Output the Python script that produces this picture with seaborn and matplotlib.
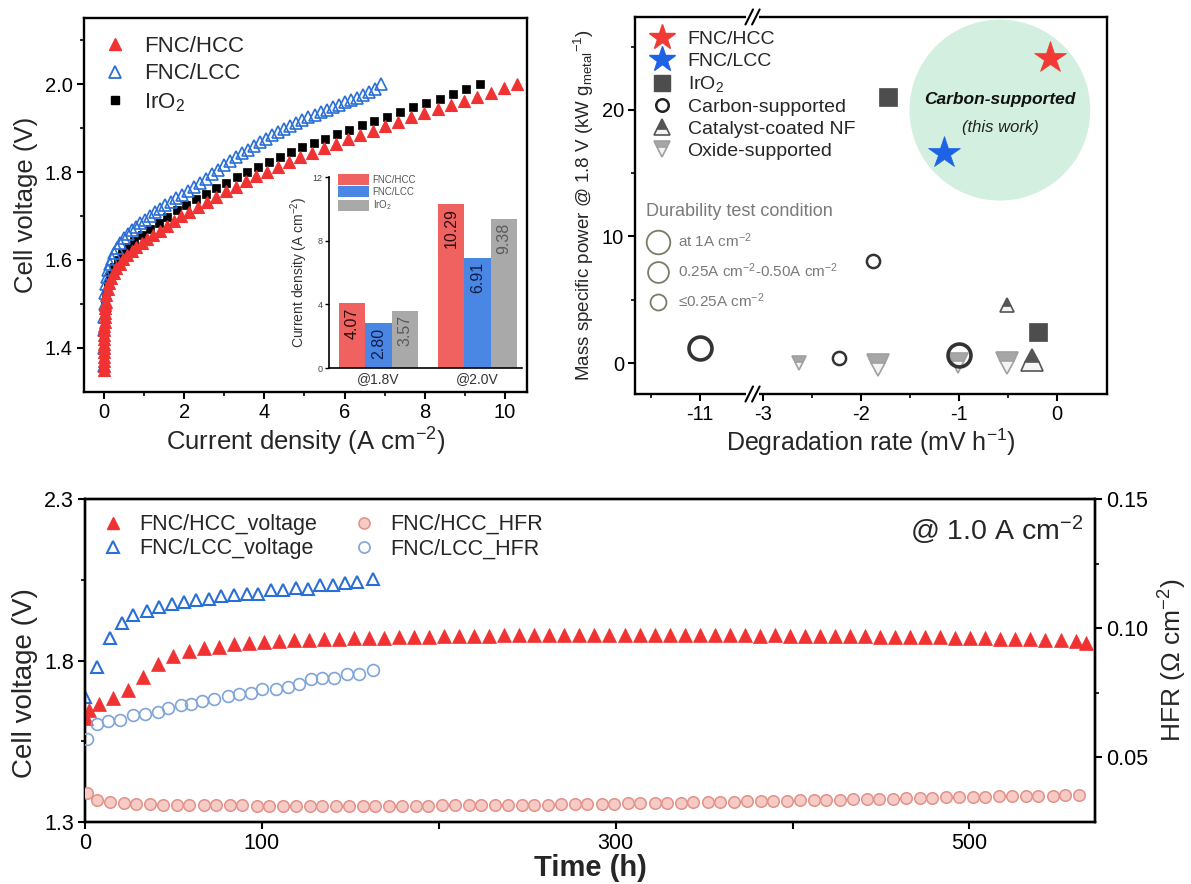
import numpy as np
import pandas as pd
import matplotlib
matplotlib.use("Agg")
import matplotlib.pyplot as plt
import seaborn as sns
from matplotlib.lines import Line2D
from matplotlib.patches import Patch, Ellipse, Rectangle
from matplotlib.ticker import FixedLocator, MultipleLocator

# ---------------- data: (a) polarization curves ----------------
hcc_j = [0.0, 0.0, 0.0, 0.001, 0.002, 0.003, 0.004, 0.005, 0.006, 0.008, 0.01, 0.013, 0.016,
         0.02, 0.025, 0.03, 0.04, 0.06, 0.09, 0.13, 0.18, 0.24,
         0.31, 0.39, 0.48, 0.58, 0.69, 0.81, 0.94, 1.08, 1.23, 1.39, 1.56, 1.74, 1.93, 2.13, 2.34,
         2.56, 2.79, 3.03, 3.28, 3.54, 3.80, 4.07, 4.34, 4.62, 4.90, 5.19, 5.48, 5.78, 6.08, 6.39,
         6.70, 7.02, 7.34, 7.66, 7.99, 8.32, 8.65, 8.98, 9.31, 9.64, 9.97, 10.29]
hcc_v = [1.35, 1.36, 1.37, 1.38, 1.39, 1.40, 1.41, 1.42, 1.43, 1.44, 1.45, 1.46, 1.47,
         1.48, 1.49, 1.497, 1.505, 1.52, 1.535, 1.548, 1.56, 1.571,
         1.582, 1.592, 1.602, 1.612, 1.621, 1.63, 1.639, 1.648, 1.657, 1.667, 1.677, 1.688, 1.699,
         1.710, 1.721, 1.732, 1.744, 1.756, 1.767, 1.779, 1.790, 1.800, 1.811, 1.822, 1.833, 1.844,
         1.854, 1.864, 1.874, 1.884, 1.894, 1.904, 1.914, 1.924, 1.934, 1.944, 1.953, 1.962, 1.971,
         1.980, 1.990, 2.0]
lcc_j = [0.0, 0.002, 0.005, 0.01, 0.02, 0.035, 0.055, 0.08, 0.11, 0.15, 0.2, 0.26, 0.33, 0.41,
         0.5, 0.6, 0.7, 0.8, 0.91, 1.02, 1.14, 1.26, 1.39, 1.52, 1.66, 1.80, 1.95, 2.10, 2.25, 2.40,
         2.55, 2.70, 2.85, 3.00, 3.15, 3.30, 3.45, 3.60, 3.75, 3.90, 4.05, 4.20, 4.35, 4.50, 4.65,
         4.80, 4.95, 5.10, 5.25, 5.40, 5.55, 5.70, 5.85, 6.00, 6.15, 6.30, 6.45, 6.60, 6.75, 6.91]
lcc_v = [1.36, 1.40, 1.44, 1.47, 1.50, 1.525, 1.545, 1.562, 1.577, 1.59, 1.603, 1.615, 1.627, 1.638,
         1.649, 1.659, 1.668, 1.676, 1.684, 1.692, 1.700, 1.708, 1.716, 1.724, 1.732, 1.740, 1.748,
         1.757, 1.766, 1.775, 1.785, 1.795, 1.805, 1.815, 1.824, 1.834, 1.843, 1.851, 1.860, 1.868,
         1.876, 1.884, 1.891, 1.898, 1.905, 1.912, 1.918, 1.924, 1.930, 1.936, 1.942, 1.947, 1.952,
         1.958, 1.963, 1.969, 1.975, 1.981, 1.988, 2.0]
iro2_j = [0.0, 0.005, 0.015, 0.03, 0.06, 0.1, 0.16, 0.24, 0.34, 0.46, 0.6, 0.76, 0.94, 1.14, 1.36,
          1.58, 1.81, 2.05, 2.29, 2.54, 2.79, 3.05, 3.31, 3.57, 3.84, 4.11, 4.38, 4.66, 4.94, 5.23,
          5.52, 5.82, 6.12, 6.43, 6.74, 7.06, 7.38, 7.71, 8.04, 8.37, 8.70, 9.04, 9.38]
iro2_v = [1.36, 1.43, 1.47, 1.50, 1.525, 1.545, 1.565, 1.583, 1.60, 1.615, 1.63, 1.644, 1.657, 1.670,
          1.684, 1.698, 1.713, 1.726, 1.738, 1.751, 1.763, 1.776, 1.788, 1.800, 1.812, 1.823, 1.834,
          1.845, 1.856, 1.866, 1.876, 1.886, 1.896, 1.906, 1.916, 1.926, 1.936, 1.947, 1.957, 1.967,
          1.977, 1.988, 2.0]

# inset bars
inset_cond = ["@1.8V", "@2.0V"]
inset_samples = ["FNC/HCC", "FNC/LCC", "IrO$_2$"]
inset_hcc = [4.07, 10.29]
inset_lcc = [2.80, 6.91]
inset_iro2 = [3.57, 9.38]

# ---------------- data: (b) degradation vs mass specific power ----------------
b_hcc_x, b_hcc_y = [-0.07], [24.1]
b_lcc_x, b_lcc_y = [-1.15], [16.6]
b_iro2_x, b_iro2_y = [-1.73, -0.19], [21.0, 2.45]
b_carbon_x = [-11.0, -2.23, -1.88, -1.0]
b_carbon_y = [1.2, 0.4, 8.1, 0.6]
b_carbon_cond = ["high", "low", "low", "high"]
b_nf_x = [-0.51, -0.26]
b_nf_y = [4.6, 0.25]
b_nf_cond = ["low", "high"]
b_ox_x = [-2.64, -1.83, -1.01, -0.51]
b_ox_y = [0.0, -0.15, 0.0, 0.0]
b_ox_cond = ["low", "high", "mid", "high"]
b_xticks = [-11, -3, -2, -1, 0]
b_cond_labels = ["at 1A cm$^{-2}$", "0.25A cm$^{-2}$-0.50A cm$^{-2}$", "\u22640.25A cm$^{-2}$"]

# ---------------- data: (c) durability ----------------
c_hcc_t = [0.5, 2, 8, 16, 24.5, 33, 41.5, 50, 58.5, 67,
           75.5, 84, 92.5, 101, 109.5, 118, 126.5, 135, 143.5, 152,
           160.5, 169, 177.5, 186, 194.5, 203, 211.5, 220, 228.5, 237,
           245.5, 254, 262.5, 271, 279.5, 288, 296.5, 305, 313.5, 322,
           330.5, 339, 347.5, 356, 364.5, 373, 381.5, 390, 398.5, 407,
           415.5, 424, 432.5, 441, 449.5, 458, 466.5, 475, 483.5, 492,
           500.5, 509, 517.5, 526, 534.5, 543, 551.5, 560, 566]
c_hcc_v = [1.622, 1.648, 1.665, 1.684, 1.709, 1.749, 1.789, 1.814, 1.830, 1.838,
           1.843, 1.850, 1.854, 1.857, 1.860, 1.862, 1.864, 1.866, 1.868, 1.869,
           1.870, 1.871, 1.872, 1.873, 1.874, 1.875, 1.876, 1.877, 1.877, 1.878,
           1.879, 1.880, 1.879, 1.880, 1.879, 1.879, 1.880, 1.879, 1.878, 1.879,
           1.879, 1.878, 1.879, 1.879, 1.878, 1.878, 1.877, 1.878, 1.877, 1.876,
           1.877, 1.876, 1.875, 1.875, 1.874, 1.874, 1.873, 1.872, 1.872, 1.871,
           1.870, 1.869, 1.868, 1.867, 1.866, 1.864, 1.862, 1.860, 1.855]
c_lcc_t = [0, 6.6, 14, 21, 27, 35, 42, 49, 56, 63, 70, 77, 84, 91.5, 98, 105, 112, 119, 126,
           133, 140, 147, 154, 163]
c_lcc_v = [1.687, 1.780, 1.869, 1.916, 1.940, 1.953, 1.966, 1.975, 1.981, 1.987, 1.990, 2.000,
           2.003, 2.006, 2.006, 2.018, 2.018, 2.024, 2.021, 2.034, 2.034, 2.040, 2.043, 2.052]
c_hcc_hfr_t = [1, 7, 14, 22, 29, 37, 44, 52, 59, 67,
               74, 82, 89, 97, 104, 112, 119, 127, 134, 142,
               149, 157, 164, 172, 179, 187, 194, 202, 209, 217,
               224, 232, 239, 247, 254, 262, 269, 277, 284, 292,
               299, 307, 314, 322, 329, 337, 344, 352, 359, 367,
               374, 382, 389, 397, 404, 412, 419, 427, 434, 442,
               449, 457, 464, 472, 479, 487, 494, 502, 509, 517,
               524, 532, 539, 547, 554, 562]
c_hcc_hfr = [0.0362, 0.0335, 0.0326, 0.0322, 0.0320, 0.0318, 0.0317, 0.0316, 0.0316, 0.0315,
             0.0315, 0.0314, 0.0314, 0.0313, 0.0313, 0.0313, 0.0312, 0.0312, 0.0312, 0.0312,
             0.0312, 0.0312, 0.0312, 0.0313, 0.0313, 0.0313, 0.0313, 0.0314, 0.0314, 0.0314,
             0.0315, 0.0315, 0.0316, 0.0316, 0.0317, 0.0317, 0.0318, 0.0319, 0.0319, 0.0320,
             0.0321, 0.0322, 0.0322, 0.0323, 0.0324, 0.0325, 0.0326, 0.0327, 0.0328, 0.0329,
             0.0330, 0.0331, 0.0332, 0.0333, 0.0334, 0.0335, 0.0336, 0.0337, 0.0338, 0.0339,
             0.0340, 0.0341, 0.0342, 0.0343, 0.0344, 0.0345, 0.0346, 0.0347, 0.0348, 0.0349,
             0.0350, 0.0351, 0.0352, 0.0352, 0.0353, 0.0354]
c_lcc_hfr_t = [1, 7, 13, 20, 27, 34, 41, 47, 54, 60, 66, 73, 81, 87, 94, 100, 108, 115, 121,
               128, 134, 141, 148, 155, 163]
c_lcc_hfr = [0.0573, 0.0631, 0.0642, 0.0646, 0.0665, 0.0669, 0.0677, 0.0692, 0.0704, 0.0708,
             0.0719, 0.0727, 0.0738, 0.0746, 0.0750, 0.0765, 0.0765, 0.0773, 0.0785, 0.0804,
             0.0808, 0.0808, 0.0823, 0.0823, 0.0838]
c_xticklabels = ["0", "100", "", "300", "", "500"]

# ---------------- style ----------------
sns.set_theme(style="ticks")
plt.rcParams["font.family"] = ["Liberation Sans", "DejaVu Sans"]
plt.rcParams["mathtext.fontset"] = "custom"
plt.rcParams["mathtext.rm"] = "Liberation Sans"
plt.rcParams["mathtext.it"] = "Liberation Sans:italic"
plt.rcParams["mathtext.bf"] = "Liberation Sans:bold"
plt.rcParams["axes.edgecolor"] = "black"
plt.rcParams["xtick.color"] = "black"
plt.rcParams["ytick.color"] = "black"

RED = "#f03232"
BLUE = "#2a6fd6"
STAR_RED = "#f23a35"
STAR_BLUE = "#1e62e6"
DARK = "#4d4d4d"


def pts(ax, xs, ys, **kw):
    sns.lineplot(x=xs, y=ys, ax=ax, estimator=None, sort=False, linestyle="",
                 legend=False, **kw)


def style_axis(ax, lsize):
    ax.tick_params(which="major", direction="out", length=5, width=1.5, labelsize=lsize, pad=3)
    ax.tick_params(which="minor", direction="out", length=3, width=1.2)
    for s in ax.spines.values():
        s.set_linewidth(1.7)


fig = plt.figure(figsize=(11.91, 8.84), dpi=100)

# ======================= (a) =======================
axA = fig.add_axes([0.0705, 0.5566, 0.372, 0.423])
pts(axA, iro2_j, iro2_v, marker="s", markersize=5.5, color="black",
    markerfacecolor="black", markeredgecolor="black", markeredgewidth=0.5, zorder=2)
pts(axA, lcc_j, lcc_v, marker="^", markersize=8, color=BLUE,
    markerfacecolor="none", markeredgecolor=BLUE, markeredgewidth=1.2, zorder=3)
pts(axA, hcc_j, hcc_v, marker="^", markersize=8.5, color=RED,
    markerfacecolor=RED, markeredgecolor=RED, markeredgewidth=0.8, zorder=4)
axA.set_xlim(-0.5, 10.55)
axA.set_ylim(1.30, 2.15)
axA.xaxis.set_major_locator(MultipleLocator(2))
axA.xaxis.set_minor_locator(MultipleLocator(1))
axA.yaxis.set_major_locator(FixedLocator([1.4, 1.6, 1.8, 2.0]))
axA.yaxis.set_minor_locator(FixedLocator([1.5, 1.7, 1.9, 2.1]))
axA.set_yticklabels(["1.4", "1.6", "1.8", "2.0"])
style_axis(axA, 14.5)
axA.set_xlabel("Current density (A cm$^{-2}$)", fontsize=18.5, labelpad=3)
axA.set_ylabel("Cell voltage (V)", fontsize=18.5, labelpad=5)
hA = [Line2D([], [], ls="", marker="^", ms=9, mfc=RED, mec=RED),
      Line2D([], [], ls="", marker="^", ms=9, mfc="none", mec=BLUE, mew=1.3),
      Line2D([], [], ls="", marker="s", ms=6, mfc="black", mec="black")]
axA.legend(hA, ["FNC/HCC", "FNC/LCC", "IrO$_2$"], loc="upper left", bbox_to_anchor=(0.0, 1.0),
           frameon=False, fontsize=16, handlelength=1.2, handletextpad=0.7, labelspacing=0.3,
           borderaxespad=0.4)

# ---- inset bars ----
axI = fig.add_axes([0.2762, 0.5837, 0.162, 0.216])
df_in = pd.DataFrame({
    "cond": inset_cond * 3,
    "sample": [s for s in inset_samples for _ in inset_cond],
    "j": inset_hcc + inset_lcc + inset_iro2,
})
bar_cols = {"FNC/HCC": "#f0625f", "FNC/LCC": "#4a86e3", "IrO$_2$": "#a9a9a9"}
sns.barplot(data=df_in, x="cond", y="j", hue="sample", palette=bar_cols, ax=axI, width=0.8,
            saturation=1, legend=False, edgecolor="none", errorbar=None)
label_cols = ["#2a0d0d", "#0d1f4a", "#5a5a5a"]
for cont, col in zip(axI.containers, label_cols):
    txts = axI.bar_label(cont, labels=[f"{b.get_height():.2f}" for b in cont], rotation=90,
                         padding=-3, fontsize=11.5, color=col)
    for t in txts:
        t.set_va("top")
axI.set_ylim(0, 12)
axI.set_xlim(-0.5, 1.45)
axI.yaxis.set_major_locator(FixedLocator([0, 4, 8, 12]))
axI.set_yticklabels(["0", "4", "8", "12"])
axI.set_xlabel("")
axI.set_ylabel("Current density (A cm$^{-2}$)", fontsize=10, labelpad=2, color="#333333")
axI.tick_params(axis="y", labelsize=6.5, length=3, width=1.0, pad=1.5, labelcolor="#444444")
axI.tick_params(axis="x", labelsize=10, length=0, pad=3, labelcolor="#333333")
axI.spines["top"].set_visible(False)
axI.spines["right"].set_visible(False)
axI.spines["left"].set_linewidth(1.2)
axI.spines["bottom"].set_linewidth(1.2)
axI.patch.set_alpha(0)
hI = [Patch(facecolor=bar_cols[s], edgecolor="none") for s in inset_samples]
axI.legend(hI, inset_samples, loc="upper left", bbox_to_anchor=(0.0, 1.06), frameon=False,
           fontsize=7, handlelength=3.2, handleheight=1.3, labelspacing=0.15, handletextpad=0.4,
           labelcolor="#555555")

# ======================= (b) =======================
axB = fig.add_axes([0.5332, 0.5543, 0.3963, 0.4265])
BRK_D = -10.46
SHIFT = 7.35
BRK_P = BRK_D + SHIFT


def fwd(x):
    x = np.asarray(x, dtype=float)
    return np.where(x <= BRK_D, x + SHIFT, np.where(x >= BRK_P, x, BRK_P))


def inv(p):
    p = np.asarray(p, dtype=float)
    return np.where(p < BRK_P, p - SHIFT, p)


axB.set_xscale("function", functions=(fwd, inv))
axB.add_patch(Ellipse((0.773, 0.753), 0.383, 0.48, transform=axB.transAxes,
                      facecolor="#d2efdf", edgecolor="none", zorder=0))
size_map = {"high": 16, "mid": 14, "low": 10}
circle_size = {"high": 16.5, "mid": 13.5, "low": 9.5}

for x, y, c in zip(b_ox_x, b_ox_y, b_ox_cond):
    pts(axB, [x], [y], marker="v", markersize=size_map[c], color="#9a9a9a",
        markerfacecolor="#a6a6a6", markerfacecoloralt="#f4f4f4", fillstyle="top",
        markeredgecolor="#a0a0a0", markeredgewidth=1.2, zorder=3)
for x, y, c in zip(b_carbon_x, b_carbon_y, b_carbon_cond):
    pts(axB, [x], [y], marker="o", markersize=circle_size[c], color="#2a2a2a",
        markerfacecolor="none", markeredgecolor="#333333",
        markeredgewidth=2.6 if c == "high" else 1.8, zorder=4)
for x, y, c in zip(b_nf_x, b_nf_y, b_nf_cond):
    pts(axB, [x], [y], marker="^", markersize=size_map[c], color=DARK,
        markerfacecolor="#555555", markerfacecoloralt="#f4f4f4", fillstyle="top",
        markeredgecolor="#555555", markeredgewidth=1.2, zorder=3)
pts(axB, b_iro2_x, b_iro2_y, marker="s", markersize=13, color=DARK,
    markerfacecolor=DARK, markeredgecolor=DARK, markeredgewidth=0.5, zorder=4)
pts(axB, b_lcc_x, b_lcc_y, marker="*", markersize=24, color=STAR_BLUE,
    markerfacecolor=STAR_BLUE, markeredgecolor=STAR_BLUE, markeredgewidth=0.5, zorder=5)
pts(axB, b_hcc_x, b_hcc_y, marker="*", markersize=24, color=STAR_RED,
    markerfacecolor=STAR_RED, markeredgecolor=STAR_RED, markeredgewidth=0.5, zorder=5)

axB.set_xlim(-11.66, 0.51)
axB.set_ylim(-2.45, 27.35)
axB.xaxis.set_major_locator(FixedLocator(b_xticks))
axB.xaxis.set_minor_locator(FixedLocator([-11.5, -2.5, -1.5, -0.5]))
axB.set_xticklabels([str(v) for v in b_xticks])
axB.yaxis.set_major_locator(FixedLocator([0, 10, 20]))
axB.yaxis.set_minor_locator(FixedLocator([5, 15, 25]))
axB.set_yticklabels(["0", "10", "20"])
style_axis(axB, 14.5)
axB.set_xlabel("Degradation rate (mV h$^{-1}$)", fontsize=18, labelpad=2)
axB.set_ylabel("Mass specific power @ 1.8 V (kW g$_{\\mathrm{metal}}$$^{-1}$)", fontsize=13.5,
               labelpad=4)
axB.text(0.773, 0.78, "Carbon-supported", transform=axB.transAxes, ha="center", va="center",
         fontsize=12.5, fontweight="bold", fontstyle="italic", color="#111111", zorder=2)
axB.text(0.773, 0.708, "(this work)", transform=axB.transAxes, ha="center", va="center",
         fontsize=12, fontstyle="italic", color="#222222", zorder=2)

xb = axB.transAxes.inverted().transform(axB.transData.transform((BRK_P, 0)))[0]
for yy in (0.0, 1.0):
    axB.add_patch(Rectangle((xb - 0.014, yy - 0.012), 0.028, 0.024, transform=axB.transAxes,
                            facecolor="white", edgecolor="none", clip_on=False, zorder=6))
    for dx in (-0.007, 0.007):
        axB.plot([xb + dx - 0.008, xb + dx + 0.008], [yy - 0.02, yy + 0.02],
                 transform=axB.transAxes, color="black", lw=1.5, clip_on=False, zorder=7)

hB = [Line2D([], [], ls="", marker="*", ms=19, mfc=STAR_RED, mec=STAR_RED),
      Line2D([], [], ls="", marker="*", ms=19, mfc=STAR_BLUE, mec=STAR_BLUE),
      Line2D([], [], ls="", marker="s", ms=11, mfc=DARK, mec=DARK),
      Line2D([], [], ls="", marker="o", ms=9, mfc="none", mec="#222222", mew=1.8),
      Line2D([], [], ls="", marker="^", ms=11, mfc="#555555", mfcalt="#f4f4f4", fillstyle="top",
             mec="#555555", mew=1.2),
      Line2D([], [], ls="", marker="v", ms=11, mfc="#a6a6a6", mfcalt="#f4f4f4", fillstyle="top",
             mec="#a0a0a0", mew=1.2)]
legB = axB.legend(hB, ["FNC/HCC", "FNC/LCC", "IrO$_2$", "Carbon-supported", "Catalyst-coated NF",
                       "Oxide-supported"], loc="upper left", bbox_to_anchor=(0.0, 1.0),
                  frameon=False, fontsize=14, handlelength=1.4, handletextpad=0.6,
                  labelspacing=0.22, borderaxespad=0.3)
axB.add_artist(legB)
hB2 = [Line2D([], [], ls="", marker="o", ms=17, mfc="none", mec="#7b7b6b", mew=1.3),
       Line2D([], [], ls="", marker="o", ms=15, mfc="none", mec="#7b7b6b", mew=1.3),
       Line2D([], [], ls="", marker="o", ms=11.5, mfc="none", mec="#7b7b6b", mew=1.3)]
axB.legend(hB2, b_cond_labels, loc="upper left", bbox_to_anchor=(0.0, 0.535), frameon=False,
           fontsize=11, title="Durability test condition", title_fontsize=13, alignment="left",
           labelcolor="#7a7a7a", handlelength=1.6, handletextpad=0.5, labelspacing=0.75,
           borderaxespad=0.3)
axB.get_legend().get_title().set_color("#7a7a7a")

# ======================= (c) =======================
axC = fig.add_axes([0.0714, 0.0701, 0.848, 0.3654])
axH = axC.twinx()
pts(axC, c_hcc_t, c_hcc_v, marker="^", markersize=9.5, color=RED,
    markerfacecolor=RED, markeredgecolor=RED, markeredgewidth=0.5, zorder=3)
pts(axC, c_lcc_t, c_lcc_v, marker="^", markersize=9, color=BLUE,
    markerfacecolor="none", markeredgecolor=BLUE, markeredgewidth=1.5, zorder=3)
pts(axH, c_hcc_hfr_t, c_hcc_hfr, marker="o", markersize=8.3, color="#e48c86",
    markerfacecolor="#f6cbc6", markeredgecolor="#e39089", markeredgewidth=1.1, zorder=3)
pts(axH, c_lcc_hfr_t, c_lcc_hfr, marker="o", markersize=8.5, color="#7fa4da",
    markerfacecolor="none", markeredgecolor="#7fa4da", markeredgewidth=1.2, zorder=3)
axC.set_xlim(0, 571)
axC.set_ylim(1.3, 2.3)
axH.set_ylim(0.025, 0.15)
axC.xaxis.set_major_locator(FixedLocator([0, 100, 200, 300, 400, 500]))
axC.set_xticklabels(c_xticklabels)
axC.yaxis.set_major_locator(FixedLocator([1.3, 1.8, 2.3]))
axC.yaxis.set_minor_locator(FixedLocator([1.55, 2.05]))
axC.set_yticklabels(["1.3", "1.8", "2.3"])
axH.yaxis.set_major_locator(FixedLocator([0.05, 0.10, 0.15]))
axH.yaxis.set_minor_locator(FixedLocator([0.075, 0.125]))
axH.set_yticklabels(["0.05", "0.10", "0.15"])
style_axis(axC, 15.5)
style_axis(axH, 15.5)
axC.set_xlabel("Time (h)", fontsize=21, fontweight="bold", labelpad=0)
axC.set_ylabel("Cell voltage (V)", fontsize=20, labelpad=4, y=0.43)
axH.set_ylabel("HFR (\u03a9 cm$^{-2}$)", fontsize=19, labelpad=6)
axC.text(0.988, 0.904, "@ 1.0 A cm$^{-2}$", transform=axC.transAxes, ha="right", va="center",
         fontsize=20.5)
hC = [Line2D([], [], ls="", marker="^", ms=9, mfc=RED, mec=RED),
      Line2D([], [], ls="", marker="^", ms=8.5, mfc="none", mec=BLUE, mew=1.5),
      Line2D([], [], ls="", marker="o", ms=8, mfc="#f6cbc6", mec="#e39089", mew=1.1),
      Line2D([], [], ls="", marker="o", ms=8, mfc="none", mec="#7fa4da", mew=1.2)]
axH.legend(hC, ["FNC/HCC_voltage", "FNC/LCC_voltage", "FNC/HCC_HFR", "FNC/LCC_HFR"],
           loc="upper left", bbox_to_anchor=(0.0, 1.0), ncol=2, frameon=False, fontsize=15.5,
           handlelength=1.2, handletextpad=0.6, labelspacing=0.15, columnspacing=1.6,
           borderaxespad=0.3)

fig.savefig("out.png", dpi=100)
